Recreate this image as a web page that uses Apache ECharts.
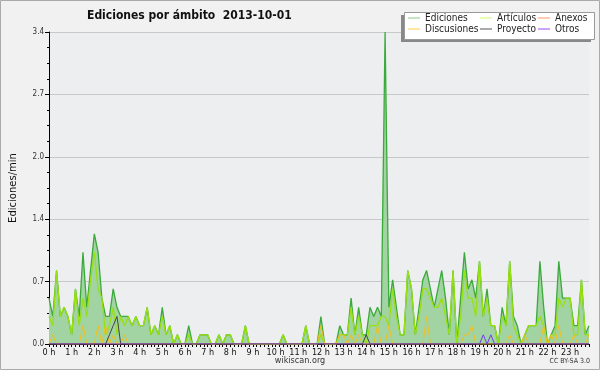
<!DOCTYPE html>
<html>
<head>
<meta charset="utf-8">
<script src="https://cdn.jsdelivr.net/npm/echarts@6/dist/echarts.min.js"></script>
<style>
html,body{margin:0;padding:0;background:#f1f1f1;}
#c{width:600px;height:370px;}
</style>
</head>
<body>
<div id="c"></div>
<script>
// ---- data (10-minute steps, edits per minute) ----
const hourLabels = ["0 h","1 h","2 h","3 h","4 h","5 h","6 h","7 h","8 h","9 h","10 h","11 h","12 h","13 h","14 h","15 h","16 h","17 h","18 h","19 h","20 h","21 h","22 h","23 h"];
const categories = [];
for (let h = 0; h < 24; h++) for (let m = 0; m < 60; m += 10) categories.push(h + ":" + (m < 10 ? "0" + m : m));

const ediciones = [
0.5,0.3,0.8,0.3,0.4,0.3, 0.1,0.6,0.3,1.0,0.4,0.8,
1.2,1.0,0.5,0.3,0.3,0.6, 0.4,0.3,0.3,0.3,0.2,0.3,
0.2,0.2,0.4,0.1,0.2,0.1, 0.4,0.1,0.2,0,0.1,0,
0,0.2,0,0,0.1,0.1, 0.1,0,0,0.1,0,0.1,
0.1,0,0,0,0.2,0, 0,0,0,0,0,0,
0,0,0.1,0,0,0, 0,0,0.2,0,0,0,
0.3,0,0,0,0,0.2, 0.1,0.1,0.5,0.1,0.4,0.1,
0.1,0.4,0.3,0.4,0.3,3.4, 0.4,0.7,0.4,0.1,0.1,0.8,
0.6,0.1,0.4,0.7,0.8,0.6, 0.4,0.6,0.8,0.5,0.1,0.8,
0,0.5,1.0,0.6,0.7,0.5, 0.9,0.3,0.6,0.2,0.2,0,
0.4,0.2,0.9,0.3,0.2,0, 0.1,0.2,0.2,0.2,0.9,0.4,
0,0.1,0.2,0.9,0.5,0.5, 0.5,0.2,0.2,0.7,0.1,0.2
];
const articulos = [
0.3,0.2,0.8,0.3,0.4,0.3, 0.1,0.6,0.2,0.5,0.3,0.7,
1.0,0.6,0.5,0.1,0.2,0.4, 0.1,0.3,0.2,0.3,0.2,0.3,
0.2,0.2,0.4,0.1,0.2,0.1, 0.3,0.1,0.2,0,0.1,0,
0,0.1,0,0,0.1,0.1, 0.1,0,0,0.1,0,0.1,
0.1,0,0,0,0.2,0, 0,0,0,0,0,0,
0,0,0.1,0,0,0, 0,0,0.2,0,0,0,
0.1,0,0,0,0,0.1, 0.1,0.1,0.4,0.1,0.3,0.1,
0,0.2,0.2,0.2,0.3,0.3, 0.2,0.6,0.3,0.1,0.1,0.8,
0.6,0.1,0.3,0.6,0.6,0.5, 0.4,0.4,0.5,0.3,0.1,0.8,
0,0.3,0.8,0.5,0.5,0.3, 0.9,0.3,0.5,0.2,0.2,0,
0.3,0.2,0.9,0.2,0.1,0, 0.1,0.2,0.2,0.2,0.3,0.2,
0,0.1,0.1,0.5,0.4,0.5, 0.5,0.1,0.1,0.7,0.1,0.1
];
const anexos = new Array(144).fill(0);
const discusiones = [
0,0.1,0,0,0,0, 0,0,0,0.2,0,0,
0,0.2,0,0.2,0,0.1, 0,0,0.1,0,0,0,
0,0,0,0,0,0, 0,0,0,0,0,0,
0,0,0,0,0,0, 0,0,0,0,0,0,
0,0,0,0,0,0, 0,0,0,0,0,0,
0,0,0,0,0,0, 0,0,0,0,0,0,
0.2,0,0,0,0,0.1, 0.1,0,0.1,0,0.1,0,
0,0,0,0.2,0,0, 0.2,0,0,0,0,0,
0,0,0,0,0.3,0, 0,0,0,0,0,0,
0,0,0.1,0.1,0.2,0, 0,0,0,0,0,0,
0,0,0.1,0,0,0, 0.1,0,0,0,0,0.2,
0,0.1,0,0.2,0,0, 0,0.1,0,0,0,0.1
];
const proyecto = new Array(144).fill(0);
proyecto[16]=0.1; proyecto[17]=0.2; proyecto[18]=0.3; proyecto[84]=0.1;
const otros = new Array(144).fill(0);
otros[115]=0.1; otros[117]=0.1;

// ---- chart ----
const chart = echarts.init(document.getElementById('c'), null, {renderer:'canvas'});
const F = '"DejaVu Sans Condensed","DejaVu Sans",sans-serif';
function lg(name, left, top, color){
  return {data:[name], left:left, top:top, orient:'horizontal', itemWidth:12, itemHeight:1, icon:'rect',
    itemGap:0, padding:0, z:20, textStyle:{fontFamily:F, fontSize:10, color:'#222'},
    selectedMode:false, itemStyle:{color:color}, lineStyle:{width:0}};
}
chart.setOption({
  animation:false,
  backgroundColor:'#f1f1f1',
  title:{text:'Ediciones por ámbito  2013-10-01', left:82, top:5,
    textStyle:{fontFamily:F, fontSize:12, fontWeight:'bold', color:'#111'}},
  graphic:[
    {type:'rect', shape:{x:0.5,y:0.5,width:599,height:369}, style:{fill:'none', stroke:'#aaa', lineWidth:1}, z:-1, silent:true},
    {type:'rect', shape:{x:401,y:15,width:190,height:27}, style:{fill:'#888'}, z:1, silent:true},
    {type:'rect', shape:{x:404.5,y:12.5,width:190,height:27}, style:{fill:'#fff', stroke:'#999', lineWidth:1}, z:2, silent:true},
    {type:'text', left:'center', top:356, style:{text:'wikiscan.org', font:'9px '+F, fill:'#333'}},
    {type:'text', right:10, top:358, style:{text:'CC BY-SA 3.0', font:'7px '+F, fill:'#333'}}
  ],
  legend:[
    lg('Ediciones', 408, 13, '#8c8'),
    lg('Artículos', 480, 13, '#cf6'),
    lg('Anexos', 538, 13, '#f96'),
    lg('Discusiones', 408, 24, '#fc4'),
    lg('Proyecto', 480, 24, '#555'),
    lg('Otros', 538, 24, '#94f')
  ],
  grid:{left:46, right:11, top:32, bottom:26, show:true, backgroundColor:'#eceef0', borderWidth:0},
  xAxis:{type:'category', data:categories, boundaryGap:false,
    axisLine:{lineStyle:{color:'#000', width:1}},
    axisTick:{show:true, interval:0, length:3, lineStyle:{color:'#000'}},
    axisLabel:{interval:(i)=>i%6===0, formatter:(v,i)=>hourLabels[i/6]||'', fontFamily:F, fontSize:9, color:'#111', margin:4},
    splitLine:{show:false}},
  yAxis:{type:'value', min:0, max:3.4, interval:0.68,
    name:'Ediciones/min', nameLocation:'middle', nameGap:31, nameRotate:90,
    nameTextStyle:{fontFamily:'"DejaVu Sans",sans-serif', fontSize:10, color:'#111'},
    axisLine:{show:true, lineStyle:{color:'#000'}},
    axisTick:{show:true, length:4, lineStyle:{color:'#000'}},
    minorTick:{show:true, splitNumber:4, length:2, lineStyle:{color:'#000'}},
    axisLabel:{formatter:(v)=>v.toFixed(1), fontFamily:F, fontSize:8, color:'#333', margin:5},
    splitLine:{show:true, lineStyle:{color:'#c8c8c8', width:1}}},
  series:[
    {name:'Ediciones', type:'line', data:ediciones, showSymbol:false, symbol:'none',
      lineStyle:{color:'#3aaa3a', width:1.3}, itemStyle:{color:'#8c8'}, areaStyle:{color:'#a2d3a2', opacity:1}, z:2},
    {name:'Artículos', type:'line', data:articulos, showSymbol:false, symbol:'none',
      lineStyle:{color:'#99e010', width:1.3}, itemStyle:{color:'#cf6'}, z:3},
    {name:'Anexos', type:'line', data:anexos, showSymbol:false, symbol:'none',
      lineStyle:{color:'#f07030', width:1}, itemStyle:{color:'#f96'}, z:3},
    {name:'Discusiones', type:'line', data:discusiones, showSymbol:false, symbol:'none',
      lineStyle:{color:'#f0c020', width:1}, itemStyle:{color:'#fc4'}, z:4},
    {name:'Proyecto', type:'line', data:proyecto, showSymbol:false, symbol:'none',
      lineStyle:{color:'#444', width:1}, itemStyle:{color:'#555'}, z:4},
    {name:'Otros', type:'line', data:otros, showSymbol:false, symbol:'none',
      lineStyle:{color:'#7a3af0', width:1}, itemStyle:{color:'#94f'}, z:4}
  ]
});
</script>
</body>
</html>
